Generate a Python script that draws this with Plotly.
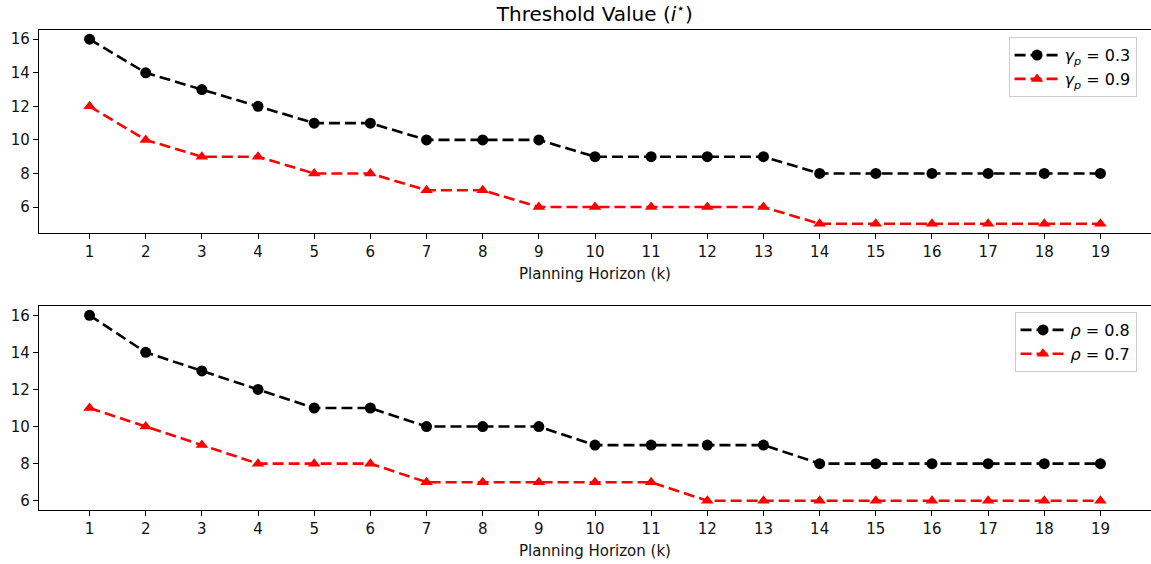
import plotly.graph_objects as go
from plotly.subplots import make_subplots

k = list(range(1, 20))
top_gamma03 = [16, 14, 13, 12, 11, 11, 10, 10, 10, 9, 9, 9, 9, 8, 8, 8, 8, 8, 8]
top_gamma09 = [12, 10, 9, 9, 8, 8, 7, 7, 6, 6, 6, 6, 6, 5, 5, 5, 5, 5, 5]
bot_rho08 = [16, 14, 13, 12, 11, 11, 10, 10, 10, 9, 9, 9, 9, 8, 8, 8, 8, 8, 8]
bot_rho07 = [11, 10, 9, 8, 8, 8, 7, 7, 7, 7, 7, 6, 6, 6, 6, 6, 6, 6, 6]
y_ticks = [6, 8, 10, 12, 14, 16]

fig = make_subplots(rows=2, cols=1, vertical_spacing=0.0)

FONT = "DejaVu Sans"

def add(y, name, color, symbol, row, legend):
    fig.add_trace(go.Scatter(
        x=k, y=y, name=name, mode="lines+markers",
        line=dict(color=color, width=2.6, dash="11px,5px"),
        marker=dict(color=color, symbol=symbol, size=11),
        legend=legend,
    ), row=row, col=1)

add(top_gamma03, "<i>γ</i><sub><i>p</i></sub> = 0.3", "black", "circle", 1, "legend")
add(top_gamma09, "<i>γ</i><sub><i>p</i></sub> = 0.9", "red", "triangle-up", 1, "legend")
add(bot_rho08, "<i>ρ</i> = 0.8", "black", "circle", 2, "legend2")
add(bot_rho07, "<i>ρ</i> = 0.7", "red", "triangle-up", 2, "legend2")

axis_common = dict(showline=True, linecolor="black", linewidth=1.2, ticks="outside",
                   ticklen=5, tickwidth=1.2, tickcolor="black", showgrid=False, zeroline=False,
                   tickfont=dict(family=FONT, size=15, color="#111"))

for r, dom in [(1, [0.577, 1.0]), (2, [0.0, 0.425])]:
    fig.update_xaxes(range=[0.1, 19.9], tickmode="array", tickvals=k, ticktext=[str(v) for v in k],
                     mirror=True, domain=[0, 1],
                     title=dict(text="Planning Horizon (k)", font=dict(family=FONT, size=15, color="#111"), standoff=8),
                     row=r, col=1, **axis_common)
    fig.update_yaxes(tickmode="array", tickvals=y_ticks, ticktext=[str(v) for v in y_ticks],
                     domain=dom, row=r, col=1, **axis_common)

fig.update_yaxes(range=[4.45, 16.55], row=1, col=1)
fig.update_yaxes(range=[5.5, 16.5], row=2, col=1)

legend_style = dict(bgcolor="white", bordercolor="#cccccc", borderwidth=1,
                    font=dict(family=FONT, size=16, color="black"),
                    xanchor="right", yanchor="top", tracegroupgap=4, itemwidth=45)

fig.update_layout(
    width=1151, height=564,
    margin=dict(l=39, r=0, t=30, b=54),
    paper_bgcolor="white", plot_bgcolor="white",
    title=dict(text="Threshold Value (<i>i</i><sup>⋆</sup>)", x=0.5168, xanchor="center",
               y=0.975, yanchor="middle", font=dict(family=FONT, size=20, color="black")),
    legend=dict(x=0.987, y=0.985, **legend_style),
    legend2=dict(x=0.987, y=0.4125, **legend_style),
    showlegend=True,
)

fig.write_html("out.html")
